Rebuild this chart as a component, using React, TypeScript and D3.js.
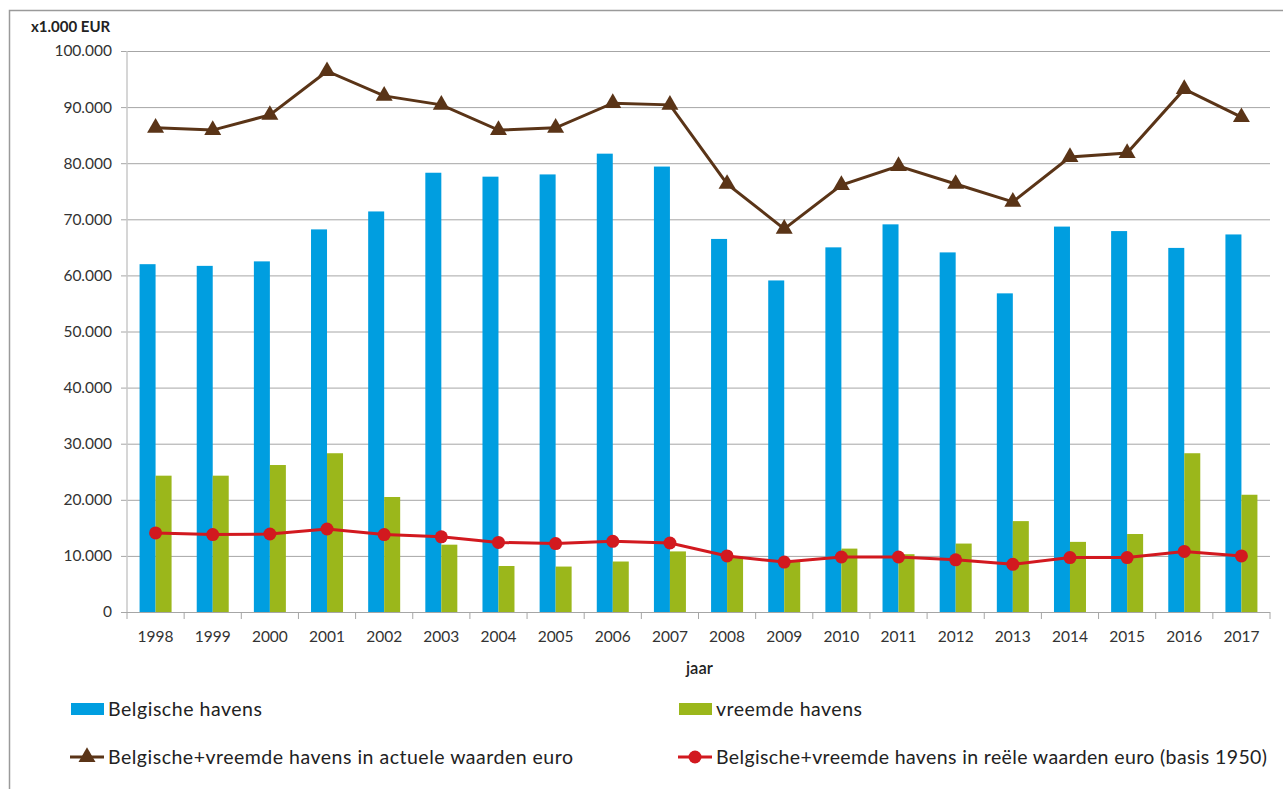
import React from 'react';
import * as d3 from 'd3';

const years = ['1998', '1999', '2000', '2001', '2002', '2003', '2004', '2005', '2006', '2007',
  '2008', '2009', '2010', '2011', '2012', '2013', '2014', '2015', '2016', '2017'];

// x1.000 EUR
const belgischeHavens = [62.0, 61.7, 62.5, 68.2, 71.4, 78.3, 77.6, 78.0, 81.7, 79.4,
  66.5, 59.1, 65.0, 69.1, 64.1, 56.8, 68.7, 67.9, 64.9, 67.3];
const vreemdeHavens = [24.3, 24.3, 26.2, 28.3, 20.5, 12.0, 8.2, 8.1, 9.0, 10.8,
  9.9, 9.2, 11.3, 10.3, 12.2, 16.2, 12.5, 13.9, 28.3, 20.9];
const actueleWaarden = [86.3, 85.9, 88.6, 96.4, 92.0, 90.4, 85.9, 86.3, 90.7, 90.4,
  76.3, 68.3, 76.1, 79.5, 76.3, 73.1, 81.1, 81.8, 93.2, 88.2];
const reeleWaarden = [14.1, 13.8, 13.9, 14.8, 13.8, 13.4, 12.4, 12.2, 12.6, 12.3,
  10.0, 8.9, 9.8, 9.8, 9.3, 8.5, 9.7, 9.7, 10.8, 10.0];

const yTicks = [0, 10, 20, 30, 40, 50, 60, 70, 80, 90, 100];

const BLUE = '#009ee0';
const GREEN = '#9bb71b';
const BROWN = '#5a3417';
const RED = '#d2191f';
const FONT = 'Lato, "Open Sans", sans-serif';

const fmt = (v: number) => (v === 0 ? '0' : `${v}.000`);

export default function App() {
  const width = 1283;
  const height = 789;
  const left = 127;
  const right = 1270;
  const top = 51;
  const bottom = 612;

  const x = d3.scaleBand<string>().domain(years).range([left, right]).padding(0);
  const y = d3.scaleLinear().domain([0, 100]).range([bottom, top]);
  const inner = d3.scaleBand<string>().domain(['b', 'v']).range([0, 32]);
  const cx = (i: number) => (x(years[i]) as number) + x.bandwidth() / 2;

  const line = d3.line<number>()
    .x((_, i) => cx(i))
    .y(d => y(d));

  const tri = d3.symbol().type(d3.symbolTriangle).size(125)();

  return (
    <div style={{ position: 'absolute', left: 0, top: 0 }}>
      <svg width={width} height={height} style={{ display: 'block', fontFamily: FONT }}>
        <rect x={0} y={0} width={width} height={height} fill="#fff" />
        {/* outer frame */}
        <rect x={9.5} y={10.5} width={1400} height={900} fill="none" stroke="#9a9a9a" strokeWidth={1.5} />

        <text x={31} y={32} fontSize={15} fontWeight={700} fill="#222">x1.000 EUR</text>

        {/* gridlines + y labels */}
        {yTicks.map(t => (
          <g key={t}>
            {t > 0 && (
              <line x1={121} x2={right} y1={y(t) + 0.5} y2={y(t) + 0.5} stroke="#a6a6a6" strokeWidth={1} />
            )}
            <text x={112} y={y(t)} dy="0.35em" textAnchor="end" fontSize={15.5} fill="#333">{fmt(t)}</text>
          </g>
        ))}

        {/* y axis line */}
        <line x1={left} x2={left} y1={top} y2={bottom} stroke="#c8c8c8" strokeWidth={1.5} />

        {/* bars */}
        {years.map((yr, i) => (
          <g key={yr}>
            <rect x={(x(yr) as number) + x.bandwidth() / 2 - 16 + (inner('b') as number)}
              y={y(belgischeHavens[i])} width={inner.bandwidth()}
              height={bottom - y(belgischeHavens[i])} fill={BLUE} />
            <rect x={(x(yr) as number) + x.bandwidth() / 2 - 16 + (inner('v') as number)}
              y={y(vreemdeHavens[i])} width={inner.bandwidth()}
              height={bottom - y(vreemdeHavens[i])} fill={GREEN} />
          </g>
        ))}

        {/* x axis */}
        <line x1={121} x2={right} y1={bottom + 0.5} y2={bottom + 0.5} stroke="#a6a6a6" strokeWidth={1} />
        {years.concat(['end']).map((yr, i) => {
          const px = left + i * x.bandwidth();
          return <line key={yr} x1={px} x2={px} y1={bottom} y2={bottom + 7} stroke="#a6a6a6" strokeWidth={1} />;
        })}
        {years.map((yr, i) => (
          <text key={yr} x={cx(i)} y={642} textAnchor="middle" fontSize={15.5} fill="#333">{yr}</text>
        ))}
        <text x={686} y={674} fontSize={16.5} fontWeight={600} fill="#222">jaar</text>

        {/* lines */}
        <path d={line(actueleWaarden) as string} fill="none" stroke={BROWN} strokeWidth={3} />
        {actueleWaarden.map((v, i) => (
          <path key={i} d={tri as string} transform={`translate(${cx(i)},${y(v)})`} fill={BROWN} />
        ))}
        <path d={line(reeleWaarden) as string} fill="none" stroke={RED} strokeWidth={3} />
        {reeleWaarden.map((v, i) => (
          <circle key={i} cx={cx(i)} cy={y(v)} r={6.5} fill={RED} />
        ))}

        {/* legend */}
        <rect x={71} y={703} width={33} height={12} fill={BLUE} />
        <text x={108} y={716} fontSize={19.5} fill="#222" textLength={154} lengthAdjust="spacing">Belgische havens</text>
        <rect x={679} y={703} width={33} height={12} fill={GREEN} />
        <text x={716} y={716} fontSize={19.5} fill="#222" textLength={146} lengthAdjust="spacing">vreemde havens</text>

        <line x1={70} x2={104} y1={757} y2={757} stroke={BROWN} strokeWidth={3} />
        <path d={tri as string} transform={`translate(87,757)`} fill={BROWN} />
        <text x={108} y={764} fontSize={19.5} fill="#222" textLength={465} lengthAdjust="spacing">Belgische+vreemde havens in actuele waarden euro</text>

        <line x1={678} x2={712} y1={757} y2={757} stroke={RED} strokeWidth={3} />
        <circle cx={695} cy={757} r={6.5} fill={RED} />
        <text x={716} y={764} fontSize={19.5} fill="#222" textLength={551} lengthAdjust="spacing">Belgische+vreemde havens in reële waarden euro (basis 1950)</text>
      </svg>
    </div>
  );
}
